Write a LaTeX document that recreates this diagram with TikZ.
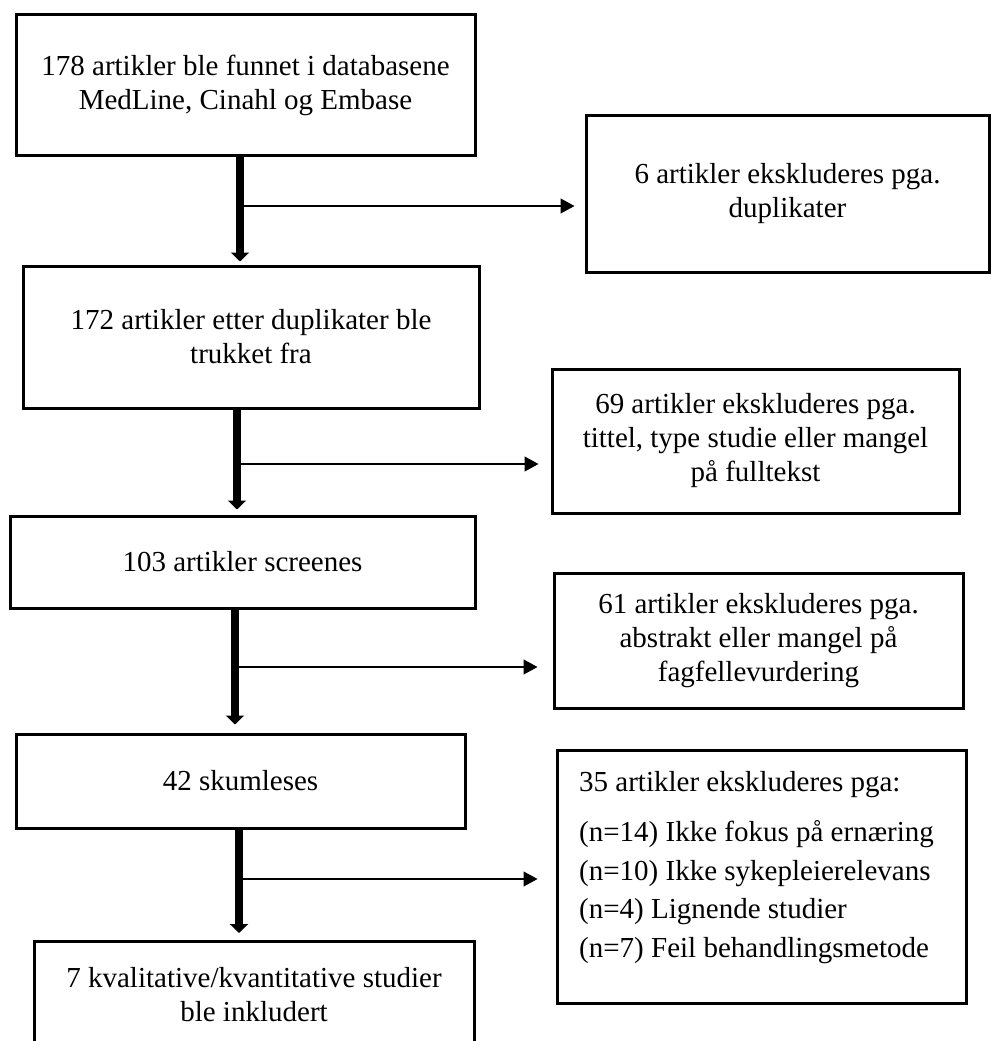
\documentclass[tikz,border=0pt]{standalone}
\usepackage{fontspec}
\setmainfont{Liberation Serif}
\usetikzlibrary{arrows.meta}
\begin{document}
\begin{tikzpicture}[x=1pt,y=-1pt,
  box/.style={draw,line width=3pt,align=center,inner sep=0pt,font=\fontsize{29}{34}\selectfont},
  listtext/.style={inner sep=0pt,align=left,font=\fontsize{29}{38.5}\selectfont},
  bigarrow/.style={line width=8pt,-{Triangle[width=18pt,length=9pt]}},
  thinarrow/.style={line width=1.3pt,-{Triangle[width=15pt,length=14pt]}}]
\useasboundingbox (0,0) rectangle (992,1041);
\clip (0,0) rectangle (992,1041);
\fill[white] (0,0) rectangle (992,1041);
% main column
\node[box,minimum width=459pt,minimum height=140pt] (b1) at (245.5,85) {178 artikler ble funnet i databasene\\MedLine, Cinahl og Embase};
\node[box,minimum width=456pt,minimum height=142pt] (b172) at (251,337) {172 artikler etter duplikater ble\\trukket fra};
\node[box,minimum width=465pt,minimum height=92pt] (b103) at (242.5,562) {103 artikler screenes};
\node[box,minimum width=449pt,minimum height=94pt] (b42) at (240.5,781) {42 skumleses};
\node[box,minimum width=440pt,minimum height=107pt,anchor=north] (b7) at (254,940) {7 kvalitative/kvantitative studier\\ble inkludert};
% exclusion column
\node[box,minimum width=403pt,minimum height=157pt] (b6) at (787.5,193.5) {6 artikler ekskluderes pga.\\duplikater};
\node[box,minimum width=407pt,minimum height=144pt] (b69) at (755.5,441) {69 artikler ekskluderes pga.\\tittel, type studie eller mangel\\på fulltekst};
\node[box,minimum width=409pt,minimum height=135pt] (b61) at (758.5,640.5) {61 artikler ekskluderes pga.\\abstrakt eller mangel på\\fagfellevurdering};
\node[box,minimum width=409pt,minimum height=253pt] (b35) at (761.5,876.5) {};
\node[listtext,anchor=north west] (t35) at (579,771) {35 artikler ekskluderes pga:\\[12pt](n=14) Ikke fokus på ernæring\\(n=10) Ikke sykepleierelevans\\(n=4) Lignende studier\\(n=7) Feil behandlingsmetode};
% shaft positions and junctions
\coordinate (s1) at (240,0);
\coordinate (s2) at (237,0);
\coordinate (s3) at (235,0);
\coordinate (s4) at (239,0);
\coordinate (j1) at (240,206);
\coordinate (j2) at (237,464);
\coordinate (j3) at (235,667);
\coordinate (j4) at (239,879);
% main arrows
\draw[bigarrow,shorten >=3pt] (b1.south -| s1) -- (b172.north -| s1);
\draw[bigarrow,shorten >=5pt] (b172.south -| s2) -- (b103.north -| s2);
\draw[bigarrow,shorten >=8pt] (b103.south -| s3) -- (b42.north -| s3);
\draw[bigarrow,shorten >=7pt] (b42.south -| s4) -- (b7.north -| s4);
% side arrows
\draw[thinarrow,shorten >=10pt] (j1) -- (j1 -| b6.west);
\draw[thinarrow,shorten >=12pt] (j2) -- (j2 -| b69.west);
\draw[thinarrow,shorten >=15pt] (j3) -- (j3 -| b61.west);
\draw[thinarrow,shorten >=18pt] (j4) -- (j4 -| b35.west);
\end{tikzpicture}
\end{document}
